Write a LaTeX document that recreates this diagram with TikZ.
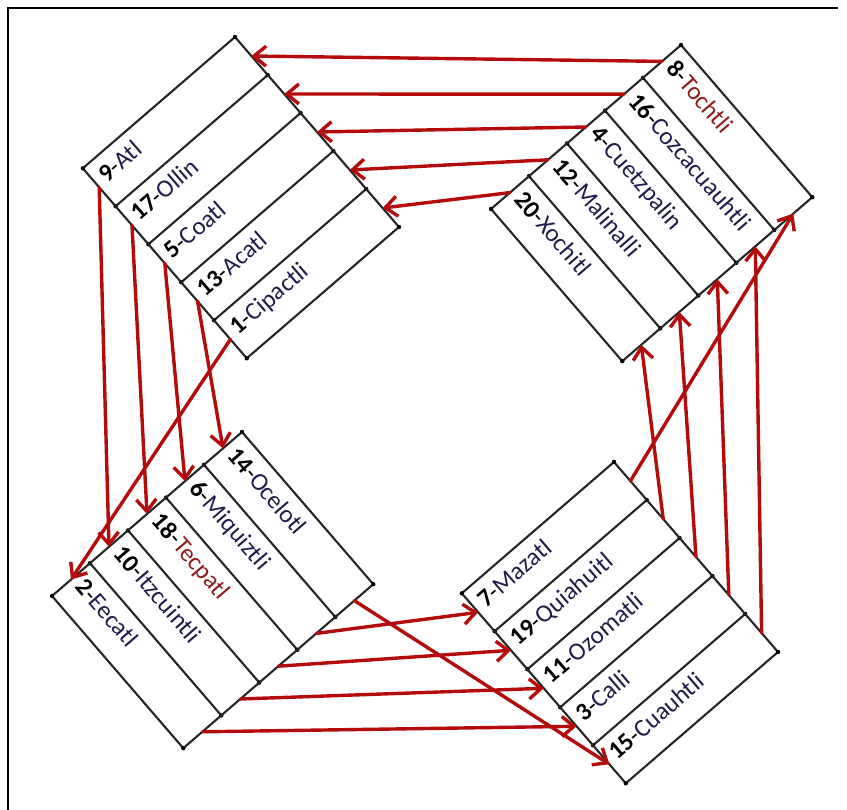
\documentclass[tikz,border=0pt]{standalone}
\usepackage{fontspec}
\setmainfont{Carlito}
\usetikzlibrary{calc,arrows.meta}
\definecolor{arrred}{RGB}{180,12,12}
\definecolor{namecol}{RGB}{30,30,75}
\definecolor{namered}{RGB}{140,30,30}
\tikzset{
  boxline/.style={draw=black!85, line width=2.1pt, line join=round},
  arr/.style={draw=arrred, line width=3.4pt, line cap=round, -{Straight Barb[length=12pt,width=20pt,line width=3.4pt]}},
  lbl/.style={inner sep=0pt, font=\fontsize{25}{30}\selectfont, anchor=mid west},
  dot/.style={fill=black},
}
\newcommand{\lab}[3]{\textbf{#1}-\textcolor{#3}{#2}}
\begin{document}
\begin{tikzpicture}[x=1pt,y=-1pt]
\useasboundingbox (0,0) rectangle (847,810);
\fill[white] (0,0) rectangle (847,810);
\draw[black, line width=2.6pt] (8,810) -- (8,8) -- (838,8);

% ---- box corners ----
% top-left box
\coordinate (tlT) at (235,37);
\coordinate (tlR) at ($(tlT)+(164,190)$);
\coordinate (tlL) at ($(tlT)+(-152.2,131.3)$);
\coordinate (tlB) at ($(tlR)+(-152.2,131.3)$);
% top-right box
\coordinate (trT) at (681,45);
\coordinate (trL) at ($(trT)+(-190,164)$);
\coordinate (trR) at ($(trT)+(131.3,152.2)$);
\coordinate (trB) at ($(trL)+(131.3,152.2)$);
% bottom-left box
\coordinate (blT) at (242,432);
\coordinate (blL) at ($(blT)+(-190,164)$);
\coordinate (blR) at ($(blT)+(131.3,152.2)$);
\coordinate (blB) at ($(blL)+(131.3,152.2)$);
% bottom-right box
\coordinate (brT) at (614,462);
\coordinate (brR) at ($(brT)+(164,190)$);
\coordinate (brL) at ($(brT)+(-152.2,131.3)$);
\coordinate (brB) at ($(brR)+(-152.2,131.3)$);

% ---- boxes with strips ----
\foreach \b/\pa/\pb/\qa/\qb in {tl/T/R/L/B, tr/T/L/R/B, bl/T/L/R/B, br/T/R/L/B}{
  \fill[white] (\b T) -- (\b R) -- (\b B) -- (\b L) -- cycle;
  \foreach \k in {1,...,4}{
    \draw[boxline] ($(\b\pa)!\k/5!(\b\pb)$) -- ($(\b\qa)!\k/5!(\b\qb)$);
    \fill[dot] ($(\b\pa)!\k/5!(\b\pb)$) circle[radius=2.2pt];
    \fill[dot] ($(\b\qa)!\k/5!(\b\qb)$) circle[radius=2.2pt];
  }
  \draw[boxline] (\b T) -- (\b R) -- (\b B) -- (\b L) -- cycle;
  \foreach \c in {T,R,B,L} \fill[dot] (\b\c) circle[radius=2.2pt];
}

% ---- labels and connector points ----
% top-left: strips along T-R, text from L-B edge
\foreach \n/\w/\c [count=\i from 0] in {9/Atl/namecol,17/Ollin/namecol,5/Coatl/namecol,13/Acatl/namecol,1/Cipactli/namecol}{
  \pgfmathsetmacro\f{(\i+0.5)/5}
  \coordinate (tlin\i) at ($(tlT)!\f!(tlR)$);
  \coordinate (tlout\i) at ($(tlL)!\f!(tlB)$);
  \node[lbl, rotate=40.8] (tltx\i) at ($(tlout\i)+(6.1,-5.2)$) {\lab{\n}{\w}{\c}};
}
% top-right: strips along T-L, text from T-L edge
\foreach \n/\w/\c [count=\i from 0] in {8/Tochtli/namered,16/Cozcacuauhtli/namecol,4/Cuetzpalin/namecol,12/Malinalli/namecol,20/Xochitl/namecol}{
  \pgfmathsetmacro\f{(\i+0.5)/5}
  \coordinate (trout\i) at ($(trT)!\f!(trL)$);
  \coordinate (trin\i) at ($(trR)!\f!(trB)$);
  \node[lbl, rotate=-49.2] (trtx\i) at ($(trout\i)+(5.2,6.1)$) {\lab{\n}{\w}{\c}};
}
% bottom-left: strips along T-L, text from T-L edge
\foreach \n/\w/\c [count=\i from 0] in {14/Ocelotl/namecol,6/Miquiztli/namecol,18/Tecpatl/namered,10/Itzcuintli/namecol,2/Eecatl/namecol}{
  \pgfmathsetmacro\f{(\i+0.5)/5}
  \coordinate (blin\i) at ($(blT)!\f!(blL)$);
  \coordinate (blout\i) at ($(blR)!\f!(blB)$);
  \node[lbl, rotate=-49.2] (bltx\i) at ($(blin\i)+(5.2,6.1)$) {\lab{\n}{\w}{\c}};
}
% bottom-right: strips along T-R, text from L-B edge
\foreach \n/\w/\c [count=\i from 0] in {7/Mazatl/namecol,19/Quiahuitl/namecol,11/Ozomatli/namecol,3/Calli/namecol,15/Cuauhtli/namecol}{
  \pgfmathsetmacro\f{(\i+0.5)/5}
  \coordinate (brout\i) at ($(brT)!\f!(brR)$);
  \coordinate (brin\i) at ($(brL)!\f!(brB)$);
  \node[lbl, rotate=40.8] (brtx\i) at ($(brin\i)+(6.1,-5.2)$) {\lab{\n}{\w}{\c}};
}

% ---- connectors ----
\foreach \a/\b in {0/0,1/1,2/2,3/3,4/4} \draw[arr] (trout\a) -- (tlin\b);
\foreach \a/\b in {0/3,1/2,2/1,3/0,4/4} \draw[arr] (tlout\a) -- (blin\b);
\foreach \a/\b in {0/4,1/0,2/1,3/2,4/3} \draw[arr] (blout\a) -- (brin\b);
\foreach \a/\b in {0/0,1/4,2/3,3/2,4/1} \draw[arr] (brout\a) -- (trin\b);
\end{tikzpicture}
\end{document}
